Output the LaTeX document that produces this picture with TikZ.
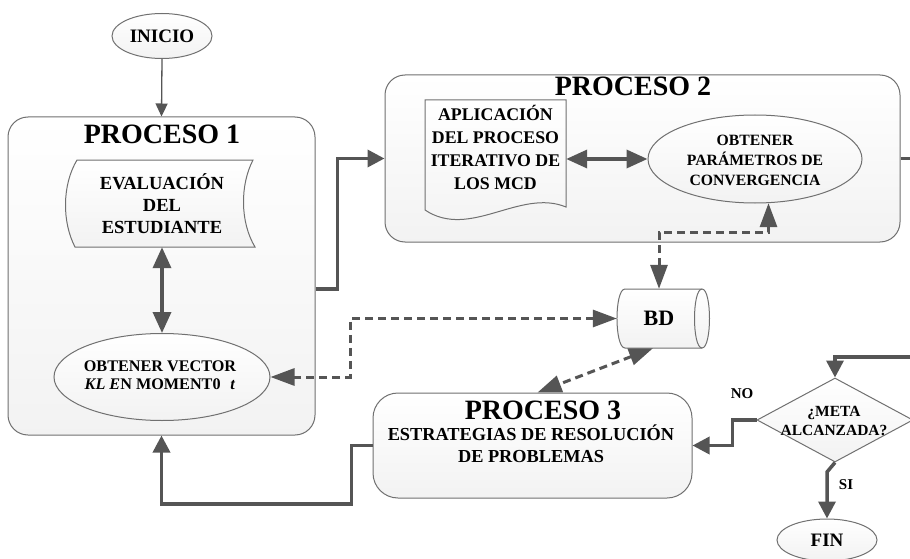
\documentclass[tikz,border=0pt]{standalone}
\usepackage{fontspec}
\setmainfont{Liberation Serif}
\usetikzlibrary{arrows.meta,shapes.geometric}
\definecolor{ln}{HTML}{555555}
\definecolor{bdc}{HTML}{707070}
\tikzset{
  shp/.style={draw=bdc, line width=1pt, top color=white, bottom color=black!5},
  proc/.style={shp, rectangle, rounded corners=20pt, inner sep=0},
  ell/.style={shp, ellipse, inner sep=0},
  ghost/.style={rectangle, inner sep=0},
  txt/.style={inner sep=0, align=center, text=black},
  ttl/.style={txt, font=\bfseries\fontsize{28}{30}\selectfont},
  conn/.style={draw=ln, line width=3.5pt, -{Triangle[length=17pt,width=17pt]}},
  dbl/.style={draw=ln, line width=3.5pt, {Triangle[length=21pt,width=18pt]}-{Triangle[length=21pt,width=18pt]}},
  dsh/.style={draw=ln, line width=3pt, dash pattern=on 8pt off 5pt, {Triangle[length=24pt,width=17pt]}-{Triangle[length=24pt,width=17pt]}},
  thinarr/.style={draw=ln, line width=1.3pt, -{Triangle[length=13pt,width=12pt]}},
  lbl/.style={txt, font=\bfseries\fontsize{15}{17}\selectfont}
}
\begin{document}
\begin{tikzpicture}[x=1pt,y=-1pt]
\path[use as bounding box] (0,0) rectangle (910,559);
\clip (0,0) rectangle (910,559);
\fill[white] (0,0) rectangle (910,559);

% INICIO
\node[ell, minimum width=100pt, minimum height=45pt] (ini) at (162,36) {};
\node[txt, font=\bfseries\fontsize{19}{21}\selectfont] (init) at (ini) {INICIO};

% PROCESO 1
\node[proc, minimum width=307pt, minimum height=318pt] (p1) at (161.5,276) {};
\node[ttl] (p1t) at (162,134) {PROCESO 1};
\draw[shp] (77,160) -- (253,160) .. controls (240,185) and (240,222) .. (255,247)
  -- (75,247) .. controls (62,222) and (62,185) .. (77,160) -- cycle;
\node[ghost, minimum width=180pt, minimum height=87pt] (ev) at (162,203.5) {};
\node[txt, font=\bfseries\fontsize{18.5}{22}\selectfont] (evt) at (162,203.5) {EVALUACIÓN\\DEL\\ESTUDIANTE};
\node[ell, minimum width=216pt, minimum height=87pt] (e1) at (162,377) {};
\node[txt, font=\bfseries\fontsize{16.2}{17.5}\selectfont] (e1t) at (160,375)
  {OBTENER VECTOR\\\textit{KL E}N MOMENT0\hspace{0.6em}\textit{t}};

% PROCESO 2
\node[proc, minimum width=515pt, minimum height=167pt] (p2) at (642.5,158.5) {};
\node[ttl] (p2t) at (633,86) {PROCESO 2};
\draw[shp] (425,100) -- (566,100) -- (566,207) .. controls (520,188) and (470,240) .. (425,210) -- cycle;
\node[ghost, minimum width=141pt, minimum height=118pt] (doc) at (495.5,159) {};
\node[txt, font=\bfseries\fontsize{17.8}{23}\selectfont] (doct) at (495.5,147)
  {APLICACIÓN\\DEL PROCESO\\ITERATIVO DE\\LOS MCD};
\node[ell, minimum width=214pt, minimum height=88pt] (e2) at (755,159) {};
\node[txt, font=\bfseries\fontsize{15.7}{20}\selectfont] (e2t) at (755,160)
  {OBTENER\\PARÁMETROS DE\\CONVERGENCIA};

% BD
\draw[shp] (625,289) -- (702,289) .. controls (712,289) and (712,348) .. (702,348)
  -- (625,348) .. controls (614.3,348) and (614.3,289) .. (625,289) -- cycle;
\draw[bdc, line width=1pt] (702,289) .. controls (692,289) and (692,348) .. (702,348);
\node[ghost, minimum width=84pt, minimum height=59pt] (bd) at (659,318.5) {};
\node[txt, font=\bfseries\fontsize{22}{24}\selectfont] (bdt) at (659,318.5) {BD};

% PROCESO 3
\node[proc, rounded corners=25pt, minimum width=319pt, minimum height=105pt] (p3) at (532.5,445.5) {};
\node[ttl] (p3t) at (543,410) {PROCESO 3};
\node[txt, font=\bfseries\fontsize{18.3}{22}\selectfont] (p3x) at (531,444)
  {ESTRATEGIAS DE RESOLUCIÓN\\DE PROBLEMAS};

% Decision
\node[shp, diamond, minimum width=156pt, minimum height=84pt, inner sep=0] (dia) at (835,420) {};
\node[txt, font=\bfseries\fontsize{15.5}{19}\selectfont] (diat) at (834,421) {¿META\\ALCANZADA?};

% FIN
\node[ell, minimum width=100pt, minimum height=42pt] (fin) at (827,540) {};
\node[txt, font=\bfseries\fontsize{19}{21}\selectfont] (fint) at (fin) {FIN};

% connectors
\draw[thinarr] (ini.south) -- (p1.north);
\draw[dbl] (ev.south) -- (e1.north);
\draw[conn] ([yshift=-13pt]p1.east) -- ++(22,0) |- (p2.west);
\draw[dbl] (doc.east) -- (e2.west);
\draw[conn] (p2.east) -- (930,158.5) -- (930,357) -| (dia.north);
\draw[dsh] (bd.north) |- (e2.-73 |- 0,232) -- (e2.-73);
\draw[dsh] (bd.west) -- (350,318.5) |- (e1.east);
\draw[dsh] ([xshift=-6pt]bd.south) -- ([xshift=5pt]p3.north);
\draw[conn] (p3.west) -- ++(-21,0) -- ++(0,58.5) -| (p1.south);
\draw[conn] (dia.west) -- ++(-24,0) |- (p3.east);
\draw[conn] (dia.south) -- (fin.north |- 0,472) -- (fin.north);

\node[lbl] (no) at (742,394) {NO};
\node[lbl] (si) at (846,485) {SI};
\end{tikzpicture}
\end{document}
